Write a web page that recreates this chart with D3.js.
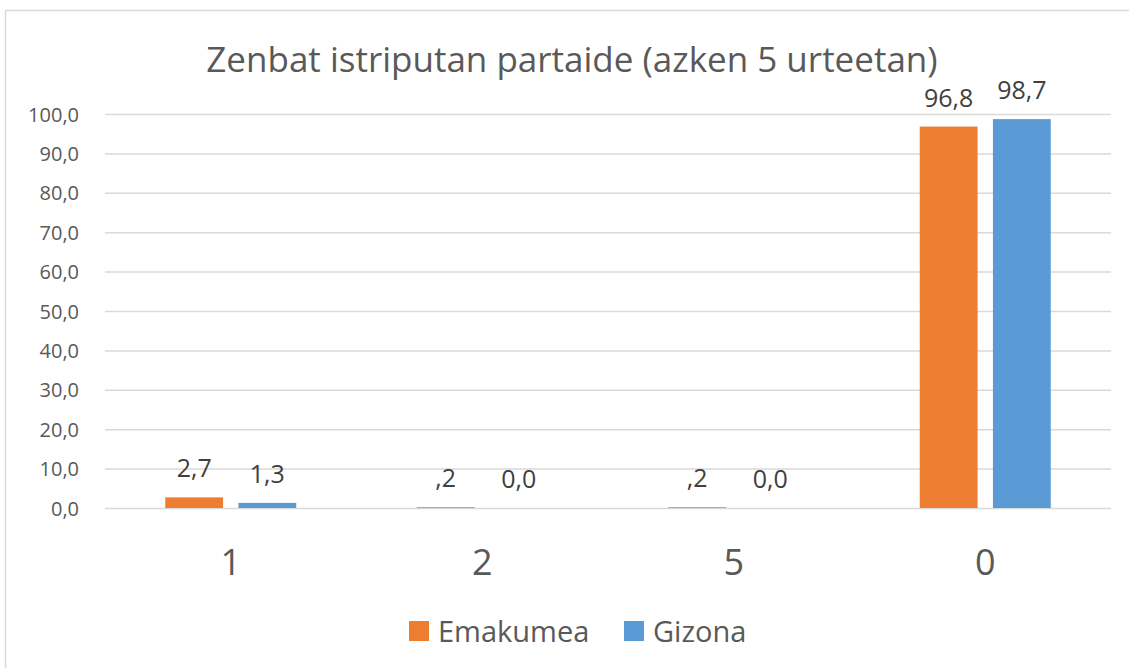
<!DOCTYPE html>
<html><head><meta charset="utf-8">
<script src="https://cdn.jsdelivr.net/npm/d3@7"></script>
<style>body{margin:0;background:#fff}svg{display:block}text{font-family:"Open Sans","Noto Sans",sans-serif}</style>
</head><body>
<svg id="c" width="1129" height="668"></svg>
<script>
const categories = ["1","2","5","0"];
const seriesNames = ["Emakumea","Gizona"];
const emakumea = [2.7, 0.2, 0.2, 96.8];
const gizona = [1.3, 0.0, 0.0, 98.7];
const labelsEmakumea = ["2,7", ",2", ",2", "96,8"];
const labelsGizona = ["1,3", "0,0", "0,0", "98,7"];
const yTicks = [0,10,20,30,40,50,60,70,80,90,100];
const colors = ["#ED7D31","#5B9BD5"];

const svg = d3.select("#c");
svg.append("rect").attr("x",5.5).attr("y",10.5).attr("width",1140).attr("height",700)
  .attr("fill","#fff").attr("stroke","#d9d9d9").attr("stroke-width",1.5);

const x = d3.scaleBand().domain(categories).range([105,1111]);
const y = d3.scaleLinear().domain([0,100]).range([508,114]);

svg.append("text").attr("x",572).attr("y",72).attr("text-anchor","middle")
  .attr("font-size",35).attr("fill","#595959").text("Zenbat istriputan partaide (azken 5 urteetan)");

const yAxis = d3.axisLeft(y).tickValues(yTicks).tickSize(-(1111-105)).tickPadding(26)
  .tickFormat(d => d3.format(".1f")(d).replace(".",","));
const ga = svg.append("g").attr("transform","translate(105,0)").call(yAxis);
ga.select(".domain").remove();
ga.selectAll("line").attr("stroke","#d9d9d9").attr("stroke-width",1.5);
ga.selectAll("text").attr("font-size",20).attr("fill","#595959").attr("dy","0.35em")
  .style("font-family",'"Open Sans","Noto Sans",sans-serif');

const xAxis = d3.axisBottom(x).tickSize(0).tickPadding(0);
const gx = svg.append("g").attr("transform","translate(0,508)").call(xAxis);
gx.select(".domain").remove();
gx.selectAll("text").attr("font-size",36).attr("fill","#595959").attr("y",67).attr("dy",null)
  .style("font-family",'"Open Sans","Noto Sans",sans-serif');

const sub = d3.scaleBand().domain([0,1]).range([-65.5,65.5]).paddingInner(0.21);
const series = [emakumea, gizona];
const labels = [labelsEmakumea, labelsGizona];
series.forEach((vals, si) => {
  const g = svg.append("g");
  g.selectAll("rect").data(vals).join("rect")
    .attr("x",(d,i)=>x(categories[i])+x.bandwidth()/2+sub(si))
    .attr("width",sub.bandwidth())
    .attr("y",d=>y(d)).attr("height",d=>Math.max(y(0)-y(d),0))
    .attr("fill",colors[si]);
  g.selectAll("text").data(vals).join("text")
    .attr("x",(d,i)=>x(categories[i])+x.bandwidth()/2+sub(si)+sub.bandwidth()/2)
    .attr("y",d=>y(d)-20).attr("text-anchor","middle")
    .attr("font-size",25).attr("fill","#404040")
    .text((d,i)=>labels[si][i]);
});

const leg = svg.append("g");
const legX = [409, 624];
seriesNames.forEach((n,i)=>{
  leg.append("rect").attr("x",legX[i]).attr("y",621).attr("width",20).attr("height",20).attr("fill",colors[i]);
  leg.append("text").attr("x",legX[i]+29).attr("y",642).attr("font-size",29).attr("fill","#595959").text(n);
});
</script>
</body></html>
